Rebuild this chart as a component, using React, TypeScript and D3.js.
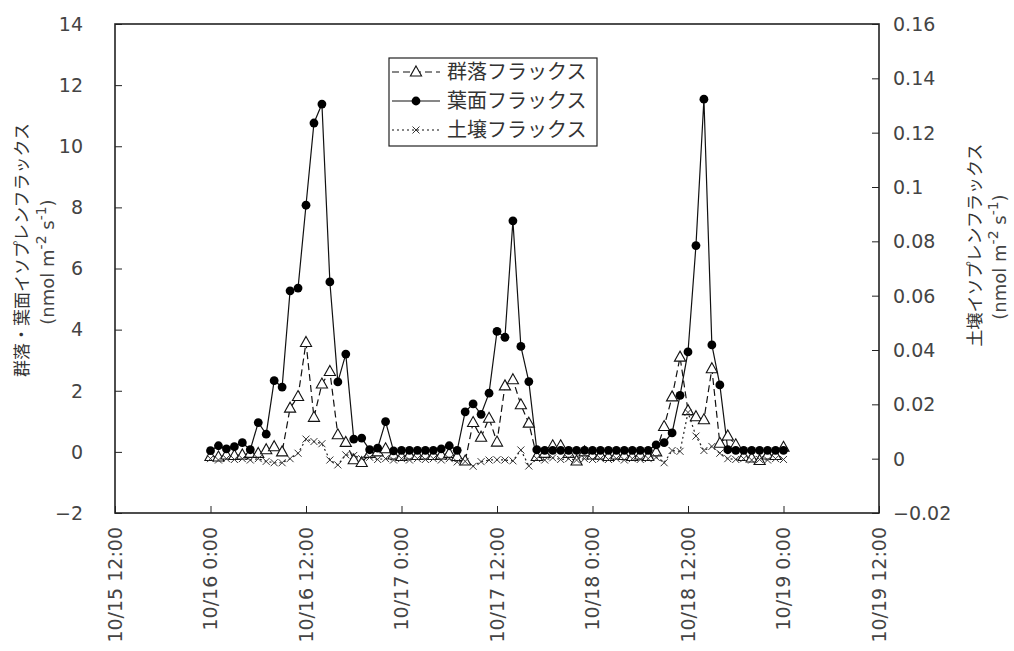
import { useRef, useEffect } from 'react';
import * as d3 from 'd3';

// hourly samples from 10/16 0:00 to 10/19 0:00 (73 points)
const startTime = new Date(2000, 9, 16, 0, 0);
const hourCount = 73;

// 群落フラックス (left axis)
const canopyFlux = [
  -0.15, -0.17, -0.1, -0.12, -0.1, -0.05, -0.05, 0.07, 0.17, 0.0,
  1.43, 1.81, 3.58, 1.13, 2.22, 2.63, 0.56, 0.31, -0.26, -0.35,
  -0.05, 0.0, 0.1, -0.1, -0.15, -0.1, -0.12, -0.1, -0.12, -0.1,
  -0.05, -0.15, -0.3, 0.96, 0.48, 1.1, 0.32, 2.16, 2.36, 1.54,
  0.94, -0.15, -0.05, 0.2, 0.2, -0.05, -0.3, 0.0, -0.1, -0.1,
  -0.15, -0.1, -0.12, -0.15, -0.1, -0.15, 0.0, 0.83, 1.8, 3.1,
  1.35, 1.15, 1.05, 2.72, 0.28, 0.52, 0.23, -0.15, -0.2, -0.28,
  -0.1, -0.12, 0.15
];

// 葉面フラックス (left axis)
const leafFlux = [
  0.04, 0.2, 0.1, 0.17, 0.3, 0.07, 0.96, 0.58, 2.33, 2.12,
  5.27, 5.36, 8.07, 10.76, 11.38, 5.56, 2.29, 3.2, 0.42, 0.45,
  0.07, 0.12, 0.99, 0.03, 0.05, 0.05, 0.05, 0.05, 0.05, 0.1,
  0.2, 0.05, 1.31, 1.57, 1.23, 1.92, 3.94, 3.75, 7.56, 3.45,
  2.3, 0.07, 0.05, 0.05, 0.05, 0.05, 0.05, 0.05, 0.05, 0.05,
  0.05, 0.05, 0.05, 0.05, 0.05, 0.05, 0.23, 0.3, 0.62, 1.85,
  3.27, 6.75, 11.54, 3.5, 2.19, 0.07, 0.05, 0.05, 0.05, 0.05,
  0.05, 0.05, 0.05
];

// 土壌フラックス (right axis)
const soilFlux = [
  0.0, -0.0005, 0.0, -0.0003, 0.0, -0.0005, 0.0, -0.001, -0.0015, -0.0015,
  0.0, 0.002, 0.0072, 0.0063, 0.0055, -0.0005, -0.0023, 0.0014, 0.0012, 0.0,
  0.0005, -0.0003, 0.0, -0.0005, 0.0, -0.0005, 0.0, -0.0003, 0.0, -0.0005,
  0.0, -0.0012, -0.001, -0.0028, -0.0011, -0.0005, -0.0004, -0.0005, -0.0008, 0.0032,
  -0.0027, 0.0, -0.0005, 0.0003, -0.0003, 0.0, -0.0005, 0.0, -0.0003, 0.0,
  -0.0003, 0.0, -0.0005, 0.0, -0.0003, 0.0, 0.0005, -0.0015, 0.003, 0.0027,
  0.017, 0.0083, 0.003, 0.0045, 0.002, 0.0, -0.0003, 0.0, -0.0005, -0.0003,
  -0.0005, 0.0, -0.0003
];

const leftTicks = [-2, 0, 2, 4, 6, 8, 10, 12, 14];
const rightTicks = [-0.02, 0, 0.02, 0.04, 0.06, 0.08, 0.1, 0.12, 0.14, 0.16];
const legendLabels = ['群落フラックス', '葉面フラックス', '土壌フラックス'];
const leftTitle = '群落・葉面イソプレンフラックス';
const rightTitle = '土壌イソプレンフラックス';

const W = 1014;
const H = 651;
const NUM_FONT = '"DejaVu Sans", sans-serif';
const JP_FONT = '"Noto Sans CJK JP", sans-serif';
const TEXT_GRAY = '#444';

const App = () => {
  const svgRef = useRef<SVGSVGElement>(null);

  useEffect(() => {
    if (!svgRef.current) return;
    const svg = d3.select(svgRef.current);
    svg.selectAll('*').remove();

    const left = 115, right = 879, top = 24, bottom = 513;

    const times = d3.range(hourCount).map(i => d3.timeHour.offset(startTime, i));
    const x = d3.scaleTime()
      .domain([d3.timeHour.offset(startTime, -12), d3.timeHour.offset(startTime, 84)])
      .range([left, right]);
    const yL = d3.scaleLinear().domain([-2, 14]).range([bottom, top]);
    const yR = d3.scaleLinear().domain([-0.02, 0.16]).range([bottom, top]);

    // frame
    svg.append('rect')
      .attr('x', left).attr('y', top)
      .attr('width', right - left).attr('height', bottom - top)
      .attr('fill', 'none').attr('stroke', '#222').attr('stroke-width', 1.6);

    // left axis
    const gL = svg.append('g').attr('transform', `translate(${left},0)`);
    gL.call(d3.axisRight(yL).tickValues(leftTicks).tickSize(7).tickFormat(() => ''));
    gL.select('.domain').remove();
    gL.selectAll('.tick line').attr('stroke', '#222');
    svg.append('g').selectAll('text').data(leftTicks).enter().append('text')
      .attr('x', 83).attr('y', d => yL(d))
      .attr('dy', '0.36em')
      .attr('text-anchor', 'end')
      .attr('font-family', NUM_FONT).attr('font-size', 19).attr('fill', TEXT_GRAY)
      .text(d => (d < 0 ? '\u2212' + Math.abs(d) : String(d)));

    // right axis
    const gR = svg.append('g').attr('transform', `translate(${right},0)`);
    gR.call(d3.axisLeft(yR).tickValues(rightTicks).tickSize(7).tickFormat(() => ''));
    gR.select('.domain').remove();
    gR.selectAll('.tick line').attr('stroke', '#222');
    svg.append('g').selectAll('text').data(rightTicks).enter().append('text')
      .attr('x', 893).attr('y', d => yR(d))
      .attr('dy', '0.36em')
      .attr('font-family', NUM_FONT).attr('font-size', 19).attr('fill', TEXT_GRAY)
      .text(d => (d < 0 ? '\u2212' + Math.abs(d) : String(d)));

    // x axis
    const xTicks = d3.range(9).map(i => d3.timeHour.offset(startTime, -12 + i * 12));
    const gX = svg.append('g').attr('transform', `translate(0,${bottom})`);
    gX.call(d3.axisTop(x).tickValues(xTicks).tickSize(7).tickFormat(() => ''));
    gX.select('.domain').remove();
    gX.selectAll('.tick line').attr('stroke', '#222');
    const fmt = d3.timeFormat('%-m/%-d %-H:%M');
    svg.append('g').selectAll('text').data(xTicks).enter().append('text')
      .attr('transform', d => `translate(${x(d)},527) rotate(-90)`)
      .attr('dy', '0.36em')
      .attr('text-anchor', 'end')
      .attr('font-family', NUM_FONT).attr('font-size', 19).attr('fill', TEXT_GRAY)
      .text(d => fmt(d));

    const plot = svg.append('g');
    const triPath = 'M0,-6L5.6,4L-5.6,4Z';

    // 群落 (dashed, open triangles)
    const lineL = d3.line<number>().x((_, i) => x(times[i])).y(d => yL(d));
    plot.append('path').datum(canopyFlux)
      .attr('d', lineL).attr('fill', 'none')
      .attr('stroke', '#111').attr('stroke-width', 1.2)
      .attr('stroke-dasharray', '7,4');

    // 葉面 (solid, filled circles)
    plot.append('path').datum(leafFlux)
      .attr('d', lineL).attr('fill', 'none')
      .attr('stroke', '#111').attr('stroke-width', 1.2);

    // 土壌 (dotted, crosses)
    const lineR = d3.line<number>().x((_, i) => x(times[i])).y(d => yR(d));
    plot.append('path').datum(soilFlux)
      .attr('d', lineR).attr('fill', 'none')
      .attr('stroke', '#222').attr('stroke-width', 1.2)
      .attr('stroke-dasharray', '2,3');

    plot.append('g').selectAll('path').data(canopyFlux).enter().append('path')
      .attr('d', triPath)
      .attr('transform', (d, i) => `translate(${x(times[i])},${yL(d)})`)
      .attr('fill', '#fff').attr('stroke', '#111').attr('stroke-width', 1.1);

    plot.append('g').selectAll('circle').data(leafFlux).enter().append('circle')
      .attr('cx', (_, i) => x(times[i])).attr('cy', d => yL(d))
      .attr('r', 4.4).attr('fill', '#000');

    const cross = 'M-3.5,-3.5L3.5,3.5M-3.5,3.5L3.5,-3.5';
    plot.append('g').selectAll('path').data(soilFlux).enter().append('path')
      .attr('d', cross)
      .attr('transform', (d, i) => `translate(${x(times[i])},${yR(d)})`)
      .attr('fill', 'none').attr('stroke', '#333').attr('stroke-width', 1);

    // legend
    const lg = svg.append('g');
    lg.append('rect')
      .attr('x', 389).attr('y', 58).attr('width', 208).attr('height', 88)
      .attr('fill', '#fff').attr('stroke', '#222').attr('stroke-width', 1.2);
    const rowY = [72, 101, 130];
    const dashes = ['7,4', null, '2,3'];
    legendLabels.forEach((label, i) => {
      const yy = rowY[i];
      const ln = lg.append('line')
        .attr('x1', 392).attr('x2', 440).attr('y1', yy).attr('y2', yy)
        .attr('stroke', '#111').attr('stroke-width', 1.2);
      if (dashes[i]) ln.attr('stroke-dasharray', dashes[i] as string);
      if (i === 0) {
        lg.append('path').attr('d', triPath).attr('transform', `translate(416,${yy})`)
          .attr('fill', '#fff').attr('stroke', '#111').attr('stroke-width', 1.1);
      } else if (i === 1) {
        lg.append('circle').attr('cx', 416).attr('cy', yy).attr('r', 4.4).attr('fill', '#000');
      } else {
        lg.append('path').attr('d', cross).attr('transform', `translate(416,${yy})`)
          .attr('fill', 'none').attr('stroke', '#333');
      }
      lg.append('text')
        .attr('x', 447).attr('y', yy).attr('dy', '0.36em')
        .attr('font-family', JP_FONT).attr('font-size', 20).attr('fill', '#333')
        .text(label);
    });

    // axis titles
    const unitLine = (g: d3.Selection<SVGTextElement, unknown, null, undefined>) => {
      g.append('tspan').text('(nmol m');
      g.append('tspan').attr('baseline-shift', 'super').attr('font-size', 14).text('-2');
      g.append('tspan').text(' s');
      g.append('tspan').attr('baseline-shift', 'super').attr('font-size', 14).text('-1');
      g.append('tspan').text(')');
    };

    svg.append('text')
      .attr('transform', 'translate(22,250) rotate(-90)')
      .attr('dy', '0.36em').attr('text-anchor', 'middle')
      .attr('font-family', JP_FONT).attr('font-size', 17).attr('fill', '#333')
      .text(leftTitle);
    const lu = svg.append('text')
      .attr('transform', 'translate(48,262) rotate(-90)')
      .attr('dy', '0.36em').attr('text-anchor', 'middle')
      .attr('font-family', NUM_FONT).attr('font-size', 18).attr('fill', TEXT_GRAY);
    unitLine(lu as any);

    svg.append('text')
      .attr('transform', 'translate(975,245) rotate(-90)')
      .attr('dy', '0.36em').attr('text-anchor', 'middle')
      .attr('font-family', JP_FONT).attr('font-size', 17).attr('fill', '#333')
      .text(rightTitle);
    const ru = svg.append('text')
      .attr('transform', 'translate(1000,257) rotate(-90)')
      .attr('dy', '0.36em').attr('text-anchor', 'middle')
      .attr('font-family', NUM_FONT).attr('font-size', 18).attr('fill', TEXT_GRAY);
    unitLine(ru as any);
  }, []);

  return (
    <svg
      ref={svgRef}
      width={W}
      height={H}
      style={{ position: 'absolute', left: 0, top: 0, background: '#fff' }}
    />
  );
};

export default App;
